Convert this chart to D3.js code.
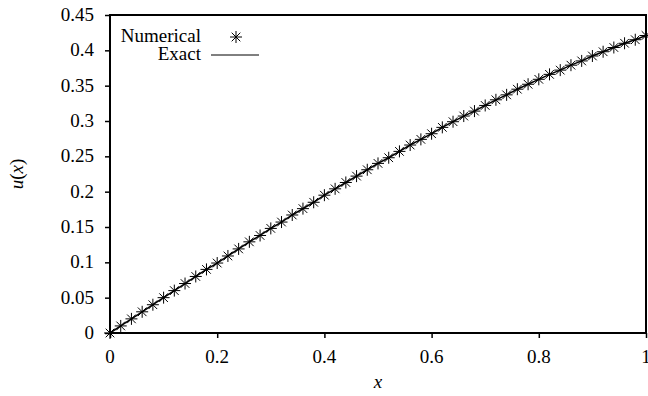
<!DOCTYPE html>
<html>
<head>
<meta charset="utf-8">
<script src="https://cdn.jsdelivr.net/npm/d3@7"></script>
</head>
<body style="margin:0">
<svg id="chart" width="648" height="396" style="display:block; font-family: 'Liberation Serif' !important"></svg>
<script>
// ---- data ----
const xValues = [0, 0.02, 0.04, 0.06, 0.08, 0.10, 0.12, 0.14, 0.16, 0.18,
                 0.20, 0.22, 0.24, 0.26, 0.28, 0.30, 0.32, 0.34, 0.36, 0.38,
                 0.40, 0.42, 0.44, 0.46, 0.48, 0.50, 0.52, 0.54, 0.56, 0.58,
                 0.60, 0.62, 0.64, 0.66, 0.68, 0.70, 0.72, 0.74, 0.76, 0.78,
                 0.80, 0.82, 0.84, 0.86, 0.88, 0.90, 0.92, 0.94, 0.96, 0.98, 1.00];
const numerical = [0.000, 0.010, 0.020, 0.030, 0.040, 0.050, 0.060, 0.070, 0.080, 0.090,
                   0.099, 0.109, 0.119, 0.129, 0.138, 0.148, 0.157, 0.167, 0.176, 0.185,
                   0.195, 0.204, 0.213, 0.222, 0.231, 0.240, 0.248, 0.257, 0.266, 0.274,
                   0.282, 0.291, 0.299, 0.307, 0.314, 0.322, 0.330, 0.337, 0.345, 0.352,
                   0.359, 0.366, 0.372, 0.379, 0.385, 0.392, 0.398, 0.404, 0.410, 0.415, 0.421];
const exact = [0.000, 0.010, 0.020, 0.030, 0.040, 0.050, 0.060, 0.070, 0.080, 0.090,
               0.099, 0.109, 0.119, 0.129, 0.138, 0.148, 0.157, 0.167, 0.176, 0.185,
               0.195, 0.204, 0.213, 0.222, 0.231, 0.240, 0.248, 0.257, 0.266, 0.274,
               0.282, 0.291, 0.299, 0.307, 0.314, 0.322, 0.330, 0.337, 0.345, 0.352,
               0.359, 0.366, 0.372, 0.379, 0.385, 0.392, 0.398, 0.404, 0.410, 0.415, 0.421];
const xTicks = [0, 0.2, 0.4, 0.6, 0.8, 1];
const xTickLabels = ["0", "0.2", "0.4", "0.6", "0.8", "1"];
const yTicks = [0, 0.05, 0.1, 0.15, 0.2, 0.25, 0.3, 0.35, 0.4, 0.45];
const yTickLabels = ["0", "0.05", "0.1", "0.15", "0.2", "0.25", "0.3", "0.35", "0.4", "0.45"];
const seriesNames = ["Numerical", "Exact"];

// ---- layout ----
const svg = d3.select("#chart");
const L = 110, R = 646, T = 15, B = 333;

const x = d3.scaleLinear().domain([0, 1]).range([L, R]);
const y = d3.scaleLinear().domain([0, 0.45]).range([B, T]);

function label(sel, italic) {
  return sel.attr("font-family", "Liberation Serif")
    .attr("style", "font-family: 'Liberation Serif' !important; font-size: 19px !important;" +
      (italic ? " font-style: italic;" : ""));
}

// axes (ticks only, outward)
const gx = svg.append("g").attr("transform", `translate(0,${B})`)
  .call(d3.axisBottom(x).tickValues(xTicks).tickSize(5).tickSizeOuter(0).tickFormat(""));
const gy = svg.append("g").attr("transform", `translate(${L},0)`)
  .call(d3.axisLeft(y).tickValues(yTicks).tickSize(5).tickSizeOuter(0).tickFormat(""));
[gx, gy].forEach(g => {
  g.attr("font-family", null).attr("font-size", null);
  g.select(".domain").remove();
  g.selectAll(".tick line").attr("stroke", "#000").attr("stroke-width", 1.5);
});

// tick labels
svg.selectAll("text.xt").data(xTicks).join("text").attr("class", "xt")
  .call(label)
  .attr("x", d => x(d)).attr("y", 363)
  .attr("text-anchor", "middle")
  .text((d, i) => xTickLabels[i]);
svg.selectAll("text.yt").data(yTicks).join("text").attr("class", "yt")
  .call(label)
  .attr("x", 94).attr("y", d => y(d) + 6)
  .attr("text-anchor", "end")
  .text((d, i) => yTickLabels[i]);

// axis titles
svg.append("text").call(label, true).attr("x", (L + R) / 2).attr("y", 388)
  .attr("text-anchor", "middle").text("x");
const yl = svg.append("text").call(label)
  .attr("transform", `translate(23,${(T + B) / 2}) rotate(-90)`)
  .attr("text-anchor", "middle");
yl.append("tspan").attr("font-style", "italic").style("font-style", "italic").text("u");
yl.append("tspan").text("(");
yl.append("tspan").attr("font-style", "italic").style("font-style", "italic").text("x");
yl.append("tspan").text(")");

// exact line
const line = d3.line().x((d, i) => x(xValues[i])).y(d => y(d));
svg.append("path").datum(exact).attr("d", line)
  .attr("fill", "none").attr("stroke", "#000").attr("stroke-width", 1.5);

// star marker
function star(g, cx, cy, r) {
  const d = r * 0.72;
  const p = `M${cx - r},${cy}L${cx + r},${cy}M${cx},${cy - r}L${cx},${cy + r}` +
            `M${cx - d},${cy - d}L${cx + d},${cy + d}M${cx - d},${cy + d}L${cx + d},${cy - d}`;
  g.append("path").attr("d", p).attr("stroke", "#000").attr("stroke-width", 1).attr("fill", "none");
}
const pts = svg.append("g");
numerical.forEach((v, i) => star(pts, x(xValues[i]), y(v), 6));

// border
svg.append("rect").attr("x", L).attr("y", T).attr("width", R - L).attr("height", B - T)
  .attr("fill", "none").attr("stroke", "#000").attr("stroke-width", 2);

// legend
svg.append("text").call(label).attr("x", 201).attr("y", 42)
  .attr("text-anchor", "end").text(seriesNames[0]);
star(svg, 236, 37, 6);
svg.append("text").call(label).attr("x", 201).attr("y", 60)
  .attr("text-anchor", "end").text(seriesNames[1]);
svg.append("line").attr("x1", 211).attr("x2", 259).attr("y1", 55).attr("y2", 55)
  .attr("stroke", "#000").attr("stroke-width", 1);
</script>
</body>
</html>
